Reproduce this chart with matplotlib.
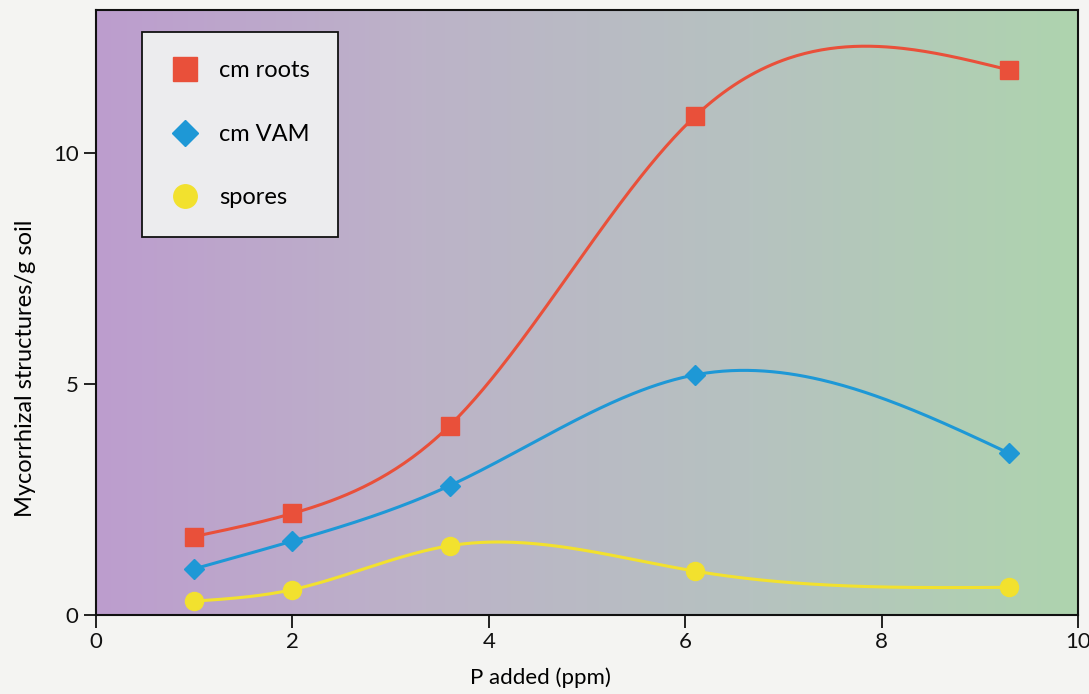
import numpy as np
import matplotlib
matplotlib.use("Agg")
import matplotlib.pyplot as plt
from matplotlib.colors import LinearSegmentedColormap

# data
p_added = [1.0, 2.0, 3.6, 6.1, 9.3]
cm_roots = [1.7, 2.2, 4.1, 10.8, 11.8]
cm_vam = [1.0, 1.6, 2.8, 5.2, 3.5]
spores = [0.3, 0.55, 1.5, 0.95, 0.6]


def natural_spline(x, y, n=300):
    # plain natural cubic spline, only used to draw the smooth line
    x = np.asarray(x, float)
    y = np.asarray(y, float)
    k = len(x)
    h = np.diff(x)
    A = np.zeros((k, k))
    b = np.zeros(k)
    A[0, 0] = A[-1, -1] = 1
    for i in range(1, k - 1):
        A[i, i - 1] = h[i - 1]
        A[i, i] = 2 * (h[i - 1] + h[i])
        A[i, i + 1] = h[i]
        b[i] = 6 * ((y[i + 1] - y[i]) / h[i] - (y[i] - y[i - 1]) / h[i - 1])
    M = np.linalg.solve(A, b)
    xs = np.linspace(x[0], x[-1], n)
    idx = np.clip(np.searchsorted(x, xs) - 1, 0, k - 2)
    x0, x1 = x[idx], x[idx + 1]
    hh = x1 - x0
    t0, t1 = x1 - xs, xs - x0
    ys = (M[idx] * t0 ** 3 + M[idx + 1] * t1 ** 3) / (6 * hh) \
        + (y[idx] / hh - M[idx] * hh / 6) * t0 \
        + (y[idx + 1] / hh - M[idx + 1] * hh / 6) * t1
    return xs, ys


plt.rcParams['font.family'] = ['Lato', 'DejaVu Sans']

fig = plt.figure(figsize=(10.89, 6.94), dpi=100)
ax = fig.add_axes([0.0882, 0.1138, 0.9018, 0.8718])

xmax, ymax = 10, 13.1
bg = LinearSegmentedColormap.from_list(
    "bg", ["#bc9dce", "#bcb3c8", "#b6c2c0", "#aed4ae"])
ax.imshow(np.linspace(0, 1, 256)[None, :], cmap=bg, aspect='auto',
          extent=[0, xmax, 0, ymax], zorder=0)

series = [
    (cm_roots, "cm roots", "#e9503a", "s", 13),
    (cm_vam, "cm VAM", "#1e98d6", "D", 10),
    (spores, "spores", "#f2e12e", "o", 13),
]
for vals, name, col, mk, ms in series:
    xs, ys = natural_spline(p_added, vals)
    ax.plot(xs, ys, color=col, lw=2.2, zorder=2)
    ax.plot(p_added, vals, ls='none', marker=mk, ms=ms, color=col,
            label=name, zorder=3)

ax.set_xlim(0, xmax)
ax.set_ylim(0, ymax)
ax.set_xticks([0, 2, 4, 6, 8, 10])
ax.set_yticks([0, 5, 10])
ax.tick_params(direction='out', length=9, width=1.3, labelsize=16,
               colors='#111111')
for s in ax.spines.values():
    s.set_linewidth(1.5)
    s.set_color('#111111')

ax.set_xlabel("P added (ppm)", fontsize=16)
ax.set_ylabel("Mycorrhizal structures/g soil", fontsize=17)
ax.xaxis.set_label_coords(0.453, -0.087)
ax.yaxis.set_label_coords(-0.061, 0.408)

leg = ax.legend(loc='upper left', bbox_to_anchor=(0.0468, 0.9636),
                fontsize=17, frameon=True, fancybox=False, markerscale=1.3,
                labelspacing=1.8, borderpad=1.2, handletextpad=0.85,
                handlelength=1.2, borderaxespad=0)
leg.get_frame().set_facecolor('#ececee')
leg.get_frame().set_edgecolor('#111111')
leg.get_frame().set_linewidth(1.3)
leg.get_frame().set_alpha(1)

fig.savefig("out.png", dpi=100, facecolor='#f4f4f2')
